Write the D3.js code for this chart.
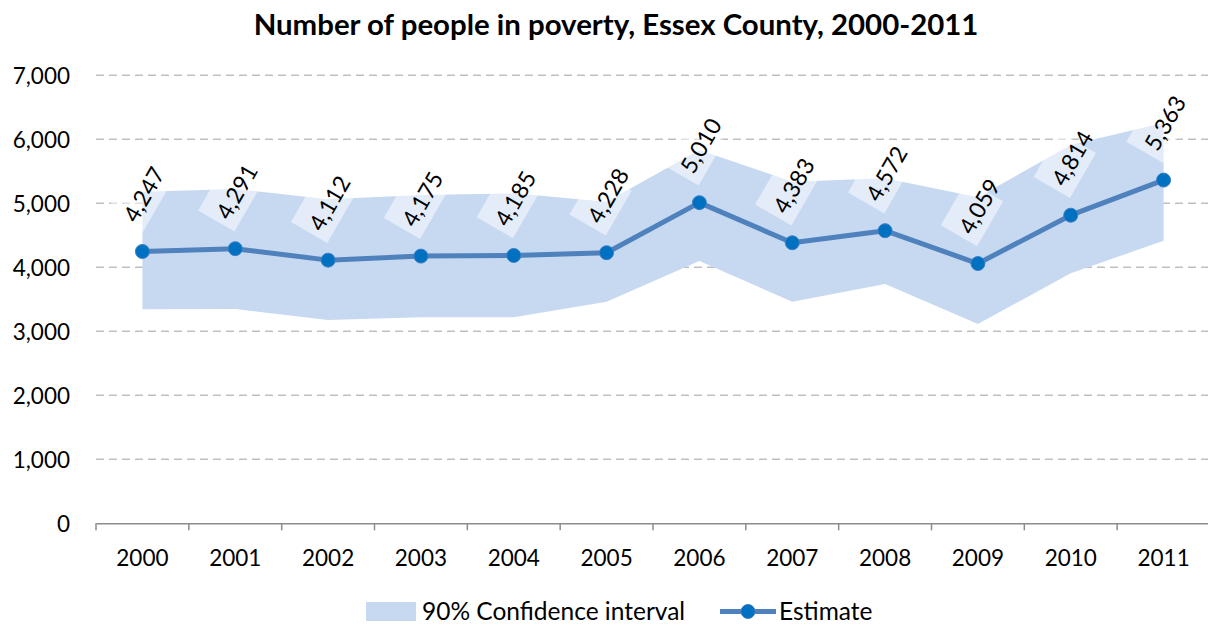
<!DOCTYPE html>
<html>
<head>
<meta charset="utf-8">
<script src="https://cdn.jsdelivr.net/npm/d3@7"></script>
<style>
  body { margin: 0; background: #fff; }
  text { font-family: Lato, "Open Sans", sans-serif; }
</style>
</head>
<body>
<div id="chart"></div>
<script>
// data
var years = ["2000","2001","2002","2003","2004","2005","2006","2007","2008","2009","2010","2011"];
var estimate = [4247, 4291, 4112, 4175, 4185, 4228, 5010, 4383, 4572, 4059, 4814, 5363];
var ciUpper = [5180, 5223, 5062, 5130, 5156, 5025, 5833, 5338, 5390, 5094, 5911, 6260];
var ciLower = [3344, 3348, 3177, 3219, 3219, 3463, 4098, 3463, 3739, 3114, 3906, 4416];
var yTicks = [0, 1000, 2000, 3000, 4000, 5000, 6000, 7000];

var width = 1208, height = 629;

var svg = d3.select("#chart")
  .append("svg")
    .attr("width", width)
    .attr("height", height);

// scales
var x = d3.scaleBand()
  .domain(years)
  .range([96, 1210])
  .padding(0);
var y = d3.scaleLinear()
  .domain([0, 7000])
  .range([523.3, 75.3]);

function cx(i) { return x(years[i]) + x.bandwidth() / 2; }

var rows = years.map(function(d, i) {
  return {year: d, est: estimate[i], hi: ciUpper[i], lo: ciLower[i], i: i};
});

// title
svg.append("text")
  .attr("x", 616)
  .attr("y", 35)
  .attr("text-anchor", "middle")
  .style("font-size", "29.4px")
  .style("font-weight", "bold")
  .text("Number of people in poverty, Essex County, 2000-2011");

// gridlines
svg.append("g")
  .selectAll("line")
  .data(yTicks.filter(function(t) { return t > 0; }))
  .enter()
  .append("line")
    .attr("x1", 96)
    .attr("x2", 1210)
    .attr("y1", function(d) { return y(d); })
    .attr("y2", function(d) { return y(d); })
    .attr("stroke", "#bfbfbf")
    .attr("stroke-width", 1.5)
    .attr("stroke-dasharray", "8,5");

// y tick labels (no axis line in the original)
svg.append("g")
  .selectAll("text")
  .data(yTicks)
  .enter()
  .append("text")
    .attr("x", 70)
    .attr("y", function(d) { return y(d) + 8.3; })
    .attr("text-anchor", "end")
    .style("font-size", "22.5px")
    .text(function(d) { return d3.format(",")(d); });

// confidence band
var area = d3.area()
  .x(function(d) { return cx(d.i); })
  .y0(function(d) { return y(d.lo); })
  .y1(function(d) { return y(d.hi); });
svg.append("path")
  .datum(rows)
  .attr("d", area)
  .attr("fill", "#c6d9f0");

// x axis
var xAxis = svg.append("g")
  .attr("transform", "translate(0," + y(0) + ")")
  .call(d3.axisBottom(x).tickSize(0).tickPadding(0));
xAxis.select(".domain")
  .attr("stroke", "#8c8c8c")
  .attr("stroke-width", 1.5);
xAxis.selectAll(".tick text")
  .attr("y", 43)
  .attr("dy", null)
  .style("font-size", "22.5px")
  .style("font-family", "Lato, 'Open Sans', sans-serif")
  .attr("fill", "#000");
// tick marks sit on the band boundaries
xAxis.selectAll(".boundary")
  .data(years.concat(["end"]))
  .enter()
  .append("line")
    .attr("x1", function(d, i) { return 96 + i * x.bandwidth(); })
    .attr("x2", function(d, i) { return 96 + i * x.bandwidth(); })
    .attr("y1", 0)
    .attr("y2", 7)
    .attr("stroke", "#8c8c8c")
    .attr("stroke-width", 1.5);

// data label boxes (semi transparent white, rotated)
var labels = svg.append("g")
  .selectAll("g")
  .data(rows)
  .enter()
  .append("g")
    .attr("transform", function(d) {
      return "translate(" + (cx(d.i) + 1.5) + "," + (y(d.est) - 57) + ")rotate(-60)";
    });
labels.append("rect")
  .attr("x", -9.6 - 26)
  .attr("y", -3.1 - 21)
  .attr("width", 52)
  .attr("height", 42)
  .attr("fill", "#fff")
  .attr("fill-opacity", 0.5);

// estimate line
var line = d3.line()
  .x(function(d) { return cx(d.i); })
  .y(function(d) { return y(d.est); });
svg.append("path")
  .datum(rows)
  .attr("d", line)
  .attr("fill", "none")
  .attr("stroke", "#4f81bd")
  .attr("stroke-width", 5)
  .attr("stroke-linejoin", "round");

svg.append("g")
  .selectAll("circle")
  .data(rows)
  .enter()
  .append("circle")
    .attr("cx", function(d) { return cx(d.i); })
    .attr("cy", function(d) { return y(d.est); })
    .attr("r", 7)
    .attr("fill", "#0070c0")
    .attr("stroke", "#3f7fc4")
    .attr("stroke-width", 1);

// data label text
labels.append("text")
  .attr("text-anchor", "middle")
  .attr("dy", "0.36em")
  .style("font-size", "23px")
  .text(function(d) { return d3.format(",")(d.est); });

// legend
var legend = svg.append("g");
legend.append("rect")
  .attr("x", 366)
  .attr("y", 602)
  .attr("width", 50)
  .attr("height", 19)
  .attr("fill", "#c6d9f0");
legend.append("text")
  .attr("x", 422)
  .attr("y", 620)
  .style("font-size", "24.5px")
  .text("90% Confidence interval");
legend.append("line")
  .attr("x1", 720)
  .attr("x2", 776)
  .attr("y1", 611.5)
  .attr("y2", 611.5)
  .attr("stroke", "#4f81bd")
  .attr("stroke-width", 5);
legend.append("circle")
  .attr("cx", 748)
  .attr("cy", 611.5)
  .attr("r", 7)
  .attr("fill", "#0070c0")
  .attr("stroke", "#3f7fc4")
  .attr("stroke-width", 1);
legend.append("text")
  .attr("x", 779)
  .attr("y", 620)
  .style("font-size", "24.5px")
  .text("Estimate");
</script>
</body>
</html>
